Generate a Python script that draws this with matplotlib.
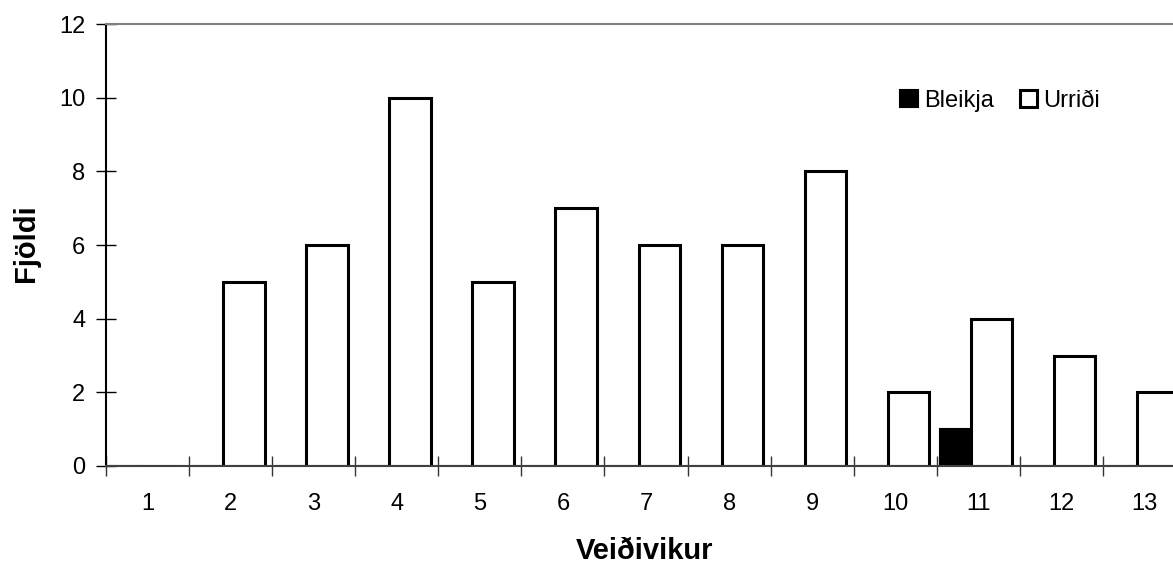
import numpy as np
import matplotlib
matplotlib.use("Agg")
import matplotlib.pyplot as plt

plt.rcParams["font.family"] = ["Liberation Sans", "DejaVu Sans"]

# veiðivikur og fjöldi fiska
weeks = np.arange(1, 14)
bleikja = [0, 0, 0, 0, 0, 0, 0, 0, 0, 0, 1, 0, 0]
urridi = [0, 5, 6, 10, 5, 7, 6, 6, 8, 2, 4, 3, 2]
week_labels = [str(w) for w in weeks]

W, H = 1173, 564
fig = plt.figure(figsize=(W / 100, H / 100), dpi=100)
# plot area runs a bit past the right edge of the image
x0, x1, y0, y1 = 106, 1186, 24, 466
ax = fig.add_axes([x0 / W, 1 - y1 / H, (x1 - x0) / W, (y1 - y0) / H])

ax.bar(weeks - 0.462, bleikja, width=0.40, align="edge", color="black",
       edgecolor="black", linewidth=1.5, label="Bleikja")
ax.bar(weeks - 0.09, urridi, width=0.50, align="edge", color="white",
       edgecolor="black", linewidth=2.2, label="Urriði")

ax.set_xlim(0.5, 13.5)
ax.set_ylim(0, 12)
ax.set_yticks(np.arange(0, 13, 2))
ax.set_xticks(weeks)
ax.set_xticklabels(week_labels)
ax.set_xticks(np.arange(0.5, 14, 1), minor=True)

ax.tick_params(axis="x", which="major", length=0, pad=19.5, labelsize=17)
ax.tick_params(axis="x", which="minor", direction="inout", length=14, width=1.0, color="#333333")
ax.tick_params(axis="y", direction="inout", length=14, width=1.0, pad=8, labelsize=17)

ax.spines["left"].set_color("black")
ax.spines["left"].set_linewidth(1.5)
ax.spines["bottom"].set_color("#404040")
ax.spines["bottom"].set_linewidth(1.5)
ax.spines["top"].set_color("#808080")
ax.spines["top"].set_linewidth(1.5)
ax.spines["right"].set_color("#808080")

fig.text(645 / W, 1 - 551 / H, "Veiðivikur", ha="center", va="center",
         fontsize=21, fontweight="bold")
fig.text(26 / W, 1 - 243 / H, "Fjöldi", ha="center", va="center",
         rotation=90, fontsize=21, fontweight="bold")

ax.legend(loc="center left", bbox_to_anchor=(879 / W, 1 - 101 / H),
          bbox_transform=fig.transFigure, ncol=2, frameon=False,
          handlelength=0.75, handleheight=0.75, handletextpad=0.25,
          columnspacing=1.1, fontsize=17)

plt.savefig("out.png", dpi=100)
